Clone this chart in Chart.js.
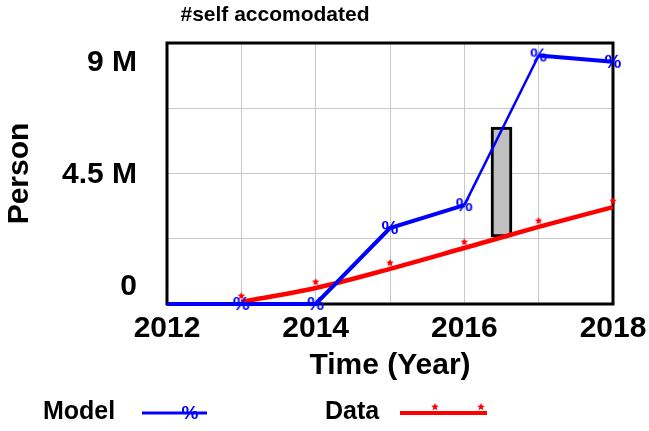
<!DOCTYPE html>
<html><head><meta charset="utf-8">
<script src="https://cdn.jsdelivr.net/npm/chart.js@4"></script>
<style>html,body{margin:0;padding:0;background:#fff}#wrap{width:649px;height:431px}</style>
</head><body><div id="wrap"><canvas id="c" width="649" height="431"></canvas></div>
<script>
const chartTitle = '#self accomodated';
const years = [2012, 2013, 2014, 2015, 2016, 2017, 2018];
const modelValues = [0, 0, 0, 2.62e6, 3.41e6, 8.57e6, 8.35e6];
const dataValues = [null, 0.07e6, 0.55e6, 1.21e6, 1.93e6, 2.66e6, 3.34e6];
const rangeBoxYear = [2016.5];
const rangeBoxLow = [2.31e6];
const rangeBoxHigh = [6.10e6];
const yTickValues = [0, 4.5e6, 9e6];
const yTickLabels = ['0', '4.5 M', '9 M'];
const xLabel = 'Time (Year)';
const yLabel = 'Person';
const seriesNames = ['Model', 'Data'];

const FONT = '"Liberation Sans", Arial, sans-serif';
const BLUE = '#0000ff', RED = '#ff0000';

function percentMarker() {
  const c = document.createElement('canvas');
  c.width = 22; c.height = 22;
  const g = c.getContext('2d');
  g.fillStyle = BLUE;
  g.font = 'bold 19px ' + FONT;
  g.textAlign = 'center';
  g.textBaseline = 'middle';
  g.fillText('%', 11, 12);
  return c;
}
function starMarker() {
  const c = document.createElement('canvas');
  c.width = 12; c.height = 20;
  const g = c.getContext('2d');
  g.fillStyle = RED;
  const cx = 6, cy = 4, R = 4, r = 1.8;
  g.beginPath();
  for (let i = 0; i < 10; i++) {
    const a = -Math.PI / 2 + i * Math.PI / 5;
    const rad = i % 2 === 0 ? R : r;
    const px = cx + rad * Math.cos(a), py = cy + rad * Math.sin(a);
    if (i === 0) g.moveTo(px, py); else g.lineTo(px, py);
  }
  g.closePath();
  g.fill();
  return c;
}
const pctImg = percentMarker();
const starImg = starMarker();

const decor = {
  id: 'decor',
  beforeDatasetsDraw(chart) {
    const {ctx, chartArea: a} = chart;
    ctx.save();
    ctx.strokeStyle = '#000';
    ctx.lineWidth = 3;
    ctx.strokeRect(a.left, a.top, a.right - a.left, a.bottom - a.top);
    ctx.restore();
  },
  afterDraw(chart) {
    const {ctx} = chart;
    const ys = chart.scales.y;
    ctx.save();
    ctx.fillStyle = '#000';
    ctx.font = 'bold 21px ' + FONT;
    ctx.textAlign = 'center';
    ctx.textBaseline = 'middle';
    ctx.fillText(chartTitle, 275, 15);
    ctx.font = 'bold 30px ' + FONT;
    ctx.textAlign = 'right';
    yTickValues.forEach((v, i) => {
      let y = ys.getPixelForValue(v);
      if (v === ys.max) y += 19; else if (v === ys.min) y -= 18;
      ctx.fillText(yTickLabels[i], 137, y + 1);
    });
    ctx.font = 'bold 25px ' + FONT;
    ctx.textAlign = 'left';
    ctx.fillText(seriesNames[0], 43, 412);
    ctx.fillText(seriesNames[1], 325, 412);
    ctx.lineCap = 'butt';
    ctx.strokeStyle = BLUE; ctx.lineWidth = 3;
    ctx.beginPath(); ctx.moveTo(142, 413); ctx.lineTo(207, 413); ctx.stroke();
    ctx.drawImage(pctImg, 190 - 11, 413 - 11);
    ctx.strokeStyle = RED; ctx.lineWidth = 4;
    ctx.beginPath(); ctx.moveTo(400, 413); ctx.lineTo(487, 413); ctx.stroke();
    ctx.drawImage(starImg, 435 - 6, 413 - 10);
    ctx.drawImage(starImg, 481 - 6, 413 - 10);
    ctx.restore();
  }
};

new Chart(document.getElementById('c'), {
  type: 'line',
  data: {
    datasets: [
      {
        label: seriesNames[0],
        data: years.map((x, i) => ({x, y: modelValues[i]})),
        borderColor: BLUE, backgroundColor: BLUE,
        borderWidth: 4,
        segment: { borderWidth: ctx => ctx.p0DataIndex === 4 ? 2.5 : 4 },
        pointStyle: pctImg,
        pointRadius: ctx => (ctx.dataIndex === 0 ? 0 : 8),
        tension: 0, clip: false, order: 0
      },
      {
        label: seriesNames[1],
        data: years.map((x, i) => ({x, y: dataValues[i]})),
        borderColor: RED, backgroundColor: RED,
        borderWidth: 4.5,
        cubicInterpolationMode: 'monotone',
        pointStyle: starImg, pointRadius: 6,
        clip: false, order: 1
      },
      {
        type: 'bar',
        label: 'range',
        data: rangeBoxYear.map((x, i) => ({x, y: [rangeBoxLow[i], rangeBoxHigh[i]]})),
        backgroundColor: '#c0c0c0', borderColor: '#000', borderWidth: 3,
        borderSkipped: false, barThickness: 21, order: 2
      }
    ]
  },
  options: {
    responsive: false, animation: false, devicePixelRatio: 1,
    layout: { padding: { left: 0, right: 36, top: 43, bottom: 53 } },
    plugins: { legend: { display: false }, title: { display: false }, tooltip: { enabled: false } },
    scales: {
      x: {
        type: 'linear', min: 2012, max: 2018, offset: false,
        border: { display: false },
        grid: { color: '#c8c8c8', lineWidth: 1, drawTicks: false, offset: false },
        afterFit: s => { s.paddingRight = 0; s.paddingLeft = 0; },
        ticks: {
          stepSize: 1, autoSkip: false, maxRotation: 0, padding: 7,
          color: '#000', font: { family: FONT, size: 30, weight: 'bold' },
          callback: v => (v % 2 === 0 ? String(v) : '')
        },
        title: { display: true, text: xLabel, color: '#000', padding: { top: 0, bottom: 0 },
                 font: { family: FONT, size: 30, weight: 'bold', lineHeight: 0.8 } }
      },
      y: {
        min: 0, max: 9e6,
        border: { display: false },
        grid: { color: '#c8c8c8', lineWidth: 1, drawTicks: false },
        ticks: { display: false, stepSize: 2.25e6 },
        title: { display: true, text: yLabel, color: '#000', padding: { top: 2, bottom: 129 },
                 font: { family: FONT, size: 30, weight: 'bold' } }
      }
    }
  },
  plugins: [decor]
});
</script></body></html>
